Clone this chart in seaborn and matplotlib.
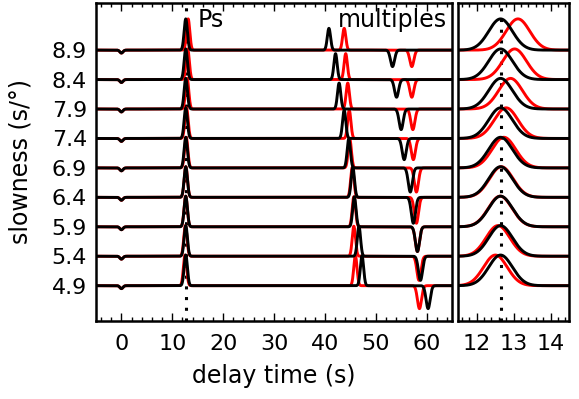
import numpy as np
import pandas as pd
import matplotlib
matplotlib.use("Agg")
import matplotlib.pyplot as plt
from matplotlib.ticker import AutoMinorLocator
import seaborn as sns

# ---- data ----
slowness = [4.9, 5.4, 5.9, 6.4, 6.9, 7.4, 7.9, 8.4, 8.9]
slowness_labels = ["4.9", "5.4", "5.9", "6.4", "6.9", "7.4", "7.9", "8.4", "8.9"]

ps_time = 12.65                      # reference Ps delay (dotted line)
ps_black_t = [12.65, 12.65, 12.65, 12.65, 12.65, 12.65, 12.65, 12.65, 12.65]
ps_red_t = [12.51, 12.58, 12.64, 12.67, 12.74, 12.80, 12.92, 13.03, 13.12]
ps_amp = [0.52, 0.52, 0.52, 0.52, 0.52, 0.52, 0.52, 0.52, 0.53]

ppps_black_t = [47.3, 46.7, 45.8, 45.5, 44.7, 43.8, 42.8, 42.1, 40.8]
ppps_red_t = [46.0, 45.7, 45.7, 45.4, 44.9, 44.8, 44.5, 44.1, 43.8]
ppps_amp = [0.51, 0.51, 0.51, 0.51, 0.49, 0.48, 0.44, 0.44, 0.37]

ppss_black_t = [60.3, 58.8, 58.2, 57.4, 56.8, 55.6, 55.0, 54.1, 53.3]
ppss_red_t = [58.6, 58.5, 58.2, 58.0, 58.0, 57.4, 57.3, 57.1, 57.1]
ppss_amp = [-0.39, -0.41, -0.42, -0.44, -0.41, -0.36, -0.35, -0.30, -0.28]

direct_amp = -0.05                   # small direct-P dip at t = 0

models = ["red", "black"]
colors = {"red": "#ff0000", "black": "#000000"}


def pulse(t, t0, a, s):
    return a * np.exp(-0.5 * ((t - t0) / s) ** 2)


def build(t):
    rows = []
    for i, p in enumerate(slowness):
        for m in models:
            tps = ps_red_t[i] if m == "red" else ps_black_t[i]
            t1 = ppps_red_t[i] if m == "red" else ppps_black_t[i]
            t2 = ppss_red_t[i] if m == "red" else ppss_black_t[i]
            y = (pulse(t, 0.0, direct_amp, 0.3)
                 + pulse(t, tps, ps_amp[i], 0.32)
                 + pulse(t, t1, ppps_amp[i], 0.32)
                 + pulse(t, t2, ppss_amp[i], 0.40))
            rows.append(pd.DataFrame({"t": t, "y": p + y, "model": m, "slow": p}))
    return pd.concat(rows, ignore_index=True)


df_left = build(np.linspace(-5, 65, 4000))
df_right = build(np.linspace(11.5, 14.5, 600))

sns.set_style("white")
plt.rcParams["font.family"] = ["DejaVu Sans"]
plt.rcParams.update({"text.color": "black", "axes.labelcolor": "black",
                     "xtick.color": "black", "ytick.color": "black"})

fig = plt.figure(figsize=(5.79, 3.99), dpi=100)
ax1 = fig.add_axes([96 / 579, 1 - 321 / 399, (452 - 96) / 579, 318 / 399])
ax2 = fig.add_axes([458 / 579, 1 - 321 / 399, (569 - 458) / 579, 318 / 399])

for ax, df in ((ax1, df_left), (ax2, df_right)):
    sns.lineplot(data=df, x="t", y="y", hue="model", units="slow",
                 estimator=None, sort=False, hue_order=models,
                 palette=colors, linewidth=2.1, legend=False, ax=ax)
    ax.axvline(ps_time, color="black", linestyle=(0, (1, 2.5)), linewidth=2.2,
               zorder=1)
    ax.set_ylim(4.3, 9.7)
    for s in ax.spines.values():
        s.set_linewidth(1.8)
        s.set_color("black")
    ax.xaxis.set_minor_locator(AutoMinorLocator())
    ax.tick_params(axis="x", which="both", direction="in", top=True,
                   bottom=True, labelsize=16, pad=9.5, colors="black")
    ax.tick_params(axis="x", which="major", length=6, width=1)
    ax.tick_params(axis="x", which="minor", length=3, width=1)
    ax.set_xlabel("")
    ax.set_ylabel("")

ax1.set_xlim(-5, 65)
ax1.set_xticks([0, 10, 20, 30, 40, 50, 60])
ax1.set_yticks(slowness)
ax1.set_yticklabels(slowness_labels)
ax1.tick_params(axis="y", direction="in", length=0, labelsize=16, pad=6.5)
ax1.set_xlabel("delay time (s)", fontsize=17, labelpad=7)
ax1.set_ylabel("slowness (s/°)", fontsize=17, labelpad=14)
ax1.text(15.05, 9.3, "Ps", fontsize=17)
ax1.text(42.5, 9.3, "multiples", fontsize=17)

ax2.set_xlim(11.5, 14.5)
ax2.set_xticks([12, 13, 14])
ax2.set_yticks([])

fig.savefig("out.png", dpi=100)
